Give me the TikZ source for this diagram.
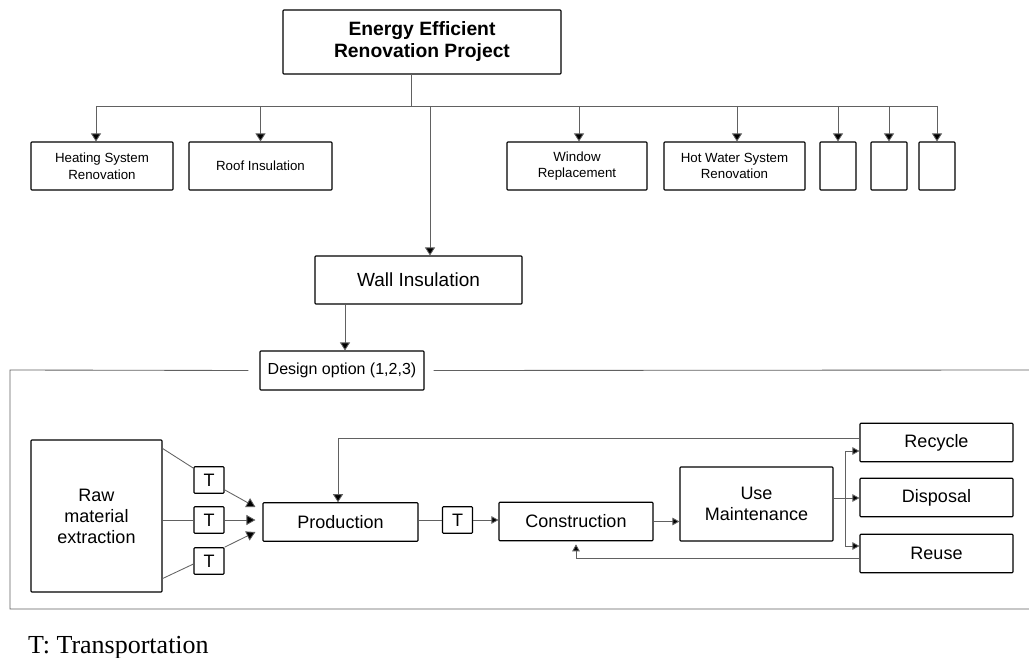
\documentclass[tikz,border=0pt]{standalone}
\usepackage{fontspec}
\setmainfont{Liberation Serif}
\setsansfont{Liberation Sans}
\usetikzlibrary{arrows.meta}
\begin{document}
\begin{tikzpicture}[x=1pt,y=-1pt,
  box/.style={draw=black,line width=1.1pt,rounded corners=0.8pt,inner sep=0pt,align=center,font=\sffamily},
  topbox/.style={box,minimum height=48pt,font=\sffamily\fontsize{13.3}{16.5}\selectfont},
  lowbox/.style={box,minimum height=38.5pt,font=\sffamily\fontsize{18}{21}\selectfont},
  tbox/.style={box,minimum width=30pt,minimum height=26.5pt,font=\sffamily\fontsize{18}{21}\selectfont},
  line/.style={draw=black!62,line width=0.85pt},
  arr/.style={line,-{Triangle[length=8pt,width=10pt,fill=black]}},
  sarr/.style={line,-{Triangle[length=7pt,width=7.5pt,fill=black]}},
  tarr/.style={line,-{Triangle[length=9pt,width=10pt,fill=black]}}]
\useasboundingbox (0,0) rectangle (1029,658);

% top level
\node[box,minimum width=278pt,minimum height=64pt,font=\sffamily\bfseries\fontsize{19.3}{22}\selectfont] (top) at (422,42) {Energy Efficient\\Renovation Project};
\node[topbox,minimum width=142pt] (heat) at (102,166) {Heating System\\Renovation};
\node[topbox,minimum width=143pt] (roof) at (260.5,166) {Roof Insulation};
\node[topbox,minimum width=140pt] (win) at (577,166) {Window\\Replacement};
\node[topbox,minimum width=141pt] (hot) at (734.5,166) {Hot Water System\\Renovation};
\node[topbox,minimum width=36pt] (e1) at (838,166) {};
\node[topbox,minimum width=36pt] (e2) at (889,166) {};
\node[topbox,minimum width=36pt] (e3) at (937,166) {};
\node[box,minimum width=207pt,minimum height=48pt,font=\sffamily\fontsize{19}{22}\selectfont] (wall) at (418.5,280) {Wall Insulation};
\node[box,minimum width=164pt,minimum height=39pt,font=\sffamily\fontsize{16}{19}\selectfont] (design) at (342,370.5) {Design option (1,2,3)};

\coordinate (stem) at (411.7,74);
\coordinate (busL) at (96,106);
\coordinate (busR) at (937,106);
\coordinate (busS) at (411.7,106);
\draw[line] (stem) -- (busS);
\draw[line] (busL) -- (busR);
\draw[arr] ([xshift=-6pt]heat.north |- busL) -- ([xshift=-6pt]heat.north);
\draw[arr] (roof.north |- busL) -- (roof.north);
\draw[arr] ([xshift=2pt]win.north |- busL) -- ([xshift=2pt]win.north);
\draw[arr] ([xshift=2.5pt]hot.north |- busL) -- ([xshift=2.5pt]hot.north);
\draw[arr] (e1.north |- busL) -- (e1.north);
\draw[arr] (e2.north |- busL) -- (e2.north);
\draw[arr] (e3.north |- busL) -- (e3.north);
\draw[arr] ([xshift=11.5pt]wall.north |- busL) -- ([xshift=11.5pt]wall.north);
\draw[arr] ([xshift=3pt]design.north |- wall.south) -- ([xshift=3pt]design.north);

% frame
\coordinate (fTL) at (10,370);
\coordinate (fBL) at (10,609);
\coordinate (fBR) at (1029,609);
\coordinate (fTR) at (1029,370);
\draw[line] ([xshift=-11pt]design.west) -- (fTL) -- (fBL) -- (fBR);
\draw[line] ([xshift=9pt]design.east) -- (fTR);

% life cycle
\node[box,minimum width=131pt,minimum height=152pt,font=\sffamily\fontsize{18}{21}\selectfont] (raw) at (96.5,516) {Raw\\material\\extraction};
\node[tbox] (t1) at (209,480) {T};
\node[tbox] (t2) at (209,520) {T};
\node[tbox] (t3) at (209,561) {T};
\node[lowbox,minimum width=155pt] (prod) at (340.5,522) {Production};
\node[tbox] (t4) at (457.5,520) {T};
\node[lowbox,minimum width=154pt] (cons) at (576,521.5) {Construction};
\node[box,minimum width=153pt,minimum height=74pt,font=\sffamily\fontsize{18}{21}\selectfont] (use) at (756.5,504) {Use\\Maintenance};
\node[lowbox,minimum width=153pt] (rec) at (936.5,442.5) {Recycle};
\node[lowbox,minimum width=153pt] (disp) at (936.5,497.5) {Disposal};
\node[lowbox,minimum width=153pt] (reuse) at (936.5,553.5) {Reuse};

\draw[line] ([yshift=-9pt]raw.north east) -- ([yshift=-2pt]t1.north west);
\draw[line] (raw.east |- t2.west) -- (t2.west);
\draw[line] ([yshift=14pt]raw.south east) -- ([yshift=-3pt]t3.west);
\draw[tarr] ([yshift=4pt]t1.south east) -- ([xshift=-7pt,yshift=15pt]prod.west);
\draw[tarr] (t2.east) -- ([xshift=-7pt]prod.west |- t2.east);
\draw[tarr] (t3.north east) -- ([xshift=-7pt,yshift=-10pt]prod.west);
\draw[line] (prod.east |- t4.west) -- (t4.west);
\draw[sarr] (t4.east) -- (t4.east -| cons.west);
\draw[sarr] (cons.east) -- (cons.east -| use.west);

\coordinate (fan) at (845,498);
\draw[sarr] (use.east |- fan) -- (disp.west |- fan);
\draw[sarr] (fan) |- ([yshift=-8.5pt]rec.west);
\draw[sarr] (fan) |- ([yshift=7.5pt]reuse.west);
\draw[arr] ([yshift=4.5pt]rec.west) -| ([xshift=-2.5pt]prod.north);
\draw[sarr,shorten >=3pt] ([yshift=-4.5pt]reuse.west) -| (cons.south);

\node[anchor=base west,inner sep=0pt,font=\fontsize{26}{30}\selectfont] (legend) at (28,653) {T: Transportation};
\end{tikzpicture}
\end{document}
